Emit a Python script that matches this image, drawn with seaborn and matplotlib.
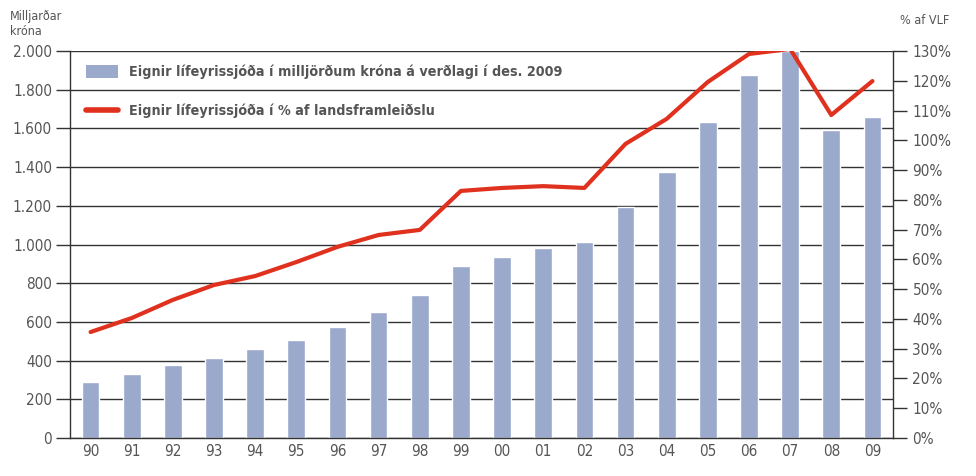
import numpy as np
import pandas as pd
import matplotlib
matplotlib.use("Agg")
import matplotlib.pyplot as plt
import seaborn as sns
from matplotlib.ticker import FixedLocator, FuncFormatter
from matplotlib.patches import Patch
from matplotlib.lines import Line2D

years = ["90", "91", "92", "93", "94", "95", "96", "97", "98", "99",
         "00", "01", "02", "03", "04", "05", "06", "07", "08", "09"]
assets_bn = [290, 331, 377, 413, 460, 506, 574, 651, 739, 889,
             935, 982, 1013, 1194, 1375, 1633, 1876, 2000, 1592, 1659]
assets_pct_gdp = [35.6, 40.3, 46.4, 51.4, 54.4, 59.1, 64.2, 68.2, 69.9, 83.0,
                  84.0, 84.6, 84.0, 98.8, 107.2, 119.6, 129.0, 130.7, 108.5, 119.9]
left_ticks = [0, 200, 400, 600, 800, 1000, 1200, 1400, 1600, 1800, 2000]
right_ticks = list(range(0, 140, 10))
label_bar = "Eignir lífeyrissjóða í milljörðum króna á verðlagi í des. 2009"
label_line = "Eignir lífeyrissjóða í % af landsframleiðslu"

bar_color = "#9BA9CD"
line_color = "#E0301E"
text_color = "#555555"

sns.set_style("white")
plt.rcParams["font.family"] = ["DejaVu Sans"]
plt.rcParams["font.stretch"] = "condensed"

fig = plt.figure(figsize=(9.76, 4.76), dpi=100)

df = pd.DataFrame({"year": years, "assets": assets_bn,
                   "pct": assets_pct_gdp, "pos": np.arange(len(years))})

ax = fig.add_axes([70 / 976, 38 / 476, 823 / 976, 387 / 476])

sns.barplot(data=df, x="year", y="assets", color=bar_color, width=0.43,
            saturation=1, ax=ax, zorder=2)
ax.set_xlim(-0.5, len(years) - 0.5)
ax.set_ylim(0, 2000)
ax.set_xlabel("")
ax.set_ylabel("")
ax.yaxis.set_major_locator(FixedLocator(left_ticks))
ax.yaxis.set_major_formatter(FuncFormatter(lambda v, p: f"{int(v):,}".replace(",", ".")))
ax.grid(axis="y", color="#333333", linewidth=1.0, zorder=0)
ax.set_axisbelow(True)
ax.xaxis.set_minor_locator(FixedLocator(np.arange(-0.5, len(years), 1.0)))
ax.tick_params(axis="x", which="major", length=0, labelsize=11, labelcolor=text_color, pad=4)
ax.tick_params(axis="x", which="minor", length=10, width=1.0, color="#333333", direction="out")
ax.tick_params(axis="y", length=10, width=1.0, color="#333333", direction="out",
               labelsize=11, labelcolor=text_color, pad=3, left=True)
for s in ["top", "right"]:
    ax.spines[s].set_visible(False)
for s in ["left", "bottom"]:
    ax.spines[s].set_color("#333333")
    ax.spines[s].set_linewidth(1.0)

ax2 = ax.twinx()
sns.lineplot(data=df, x="pos", y="pct", color=line_color, linewidth=3.0, ax=ax2, zorder=5)
ax2.set_ylim(0, 130)
ax2.set_xlim(-0.5, len(years) - 0.5)
ax2.set_ylabel("")
ax2.set_xlabel("")
ax2.yaxis.set_major_locator(FixedLocator(right_ticks))
ax2.yaxis.set_major_formatter(FuncFormatter(lambda v, p: f"{int(v)}%"))
ax2.tick_params(axis="y", length=10, width=1.0, color="#333333", direction="out",
                labelsize=11, labelcolor=text_color, pad=4, right=True)
for s in ["top", "left", "bottom"]:
    ax2.spines[s].set_visible(False)
ax2.spines["right"].set_color("#333333")
ax2.spines["right"].set_linewidth(1.0)

fig.text(10 / 976, 1 - 10 / 476, "Milljarðar\nkróna", ha="left", va="top",
         fontsize=9, color=text_color, linespacing=1.2)
fig.text(925 / 976, 1 - 21 / 476, "% af VLF", ha="center", va="center",
         fontsize=9, color=text_color)

handles = [Patch(facecolor=bar_color, edgecolor="none"),
           Line2D([0], [0], color=line_color, linewidth=4, solid_capstyle="round")]
leg = ax2.legend(handles, [label_bar, label_line], loc="upper left",
                 bbox_to_anchor=(3 / 823, 1 - 1 / 387), frameon=False,
                 prop={"weight": "bold", "size": 10.3, "stretch": "condensed"},
                 labelspacing=1.7, handlelength=2.25, handleheight=1.0, handletextpad=0.75)
for t in leg.get_texts():
    t.set_color(text_color)

fig.savefig("out.png", dpi=100, facecolor="white")
